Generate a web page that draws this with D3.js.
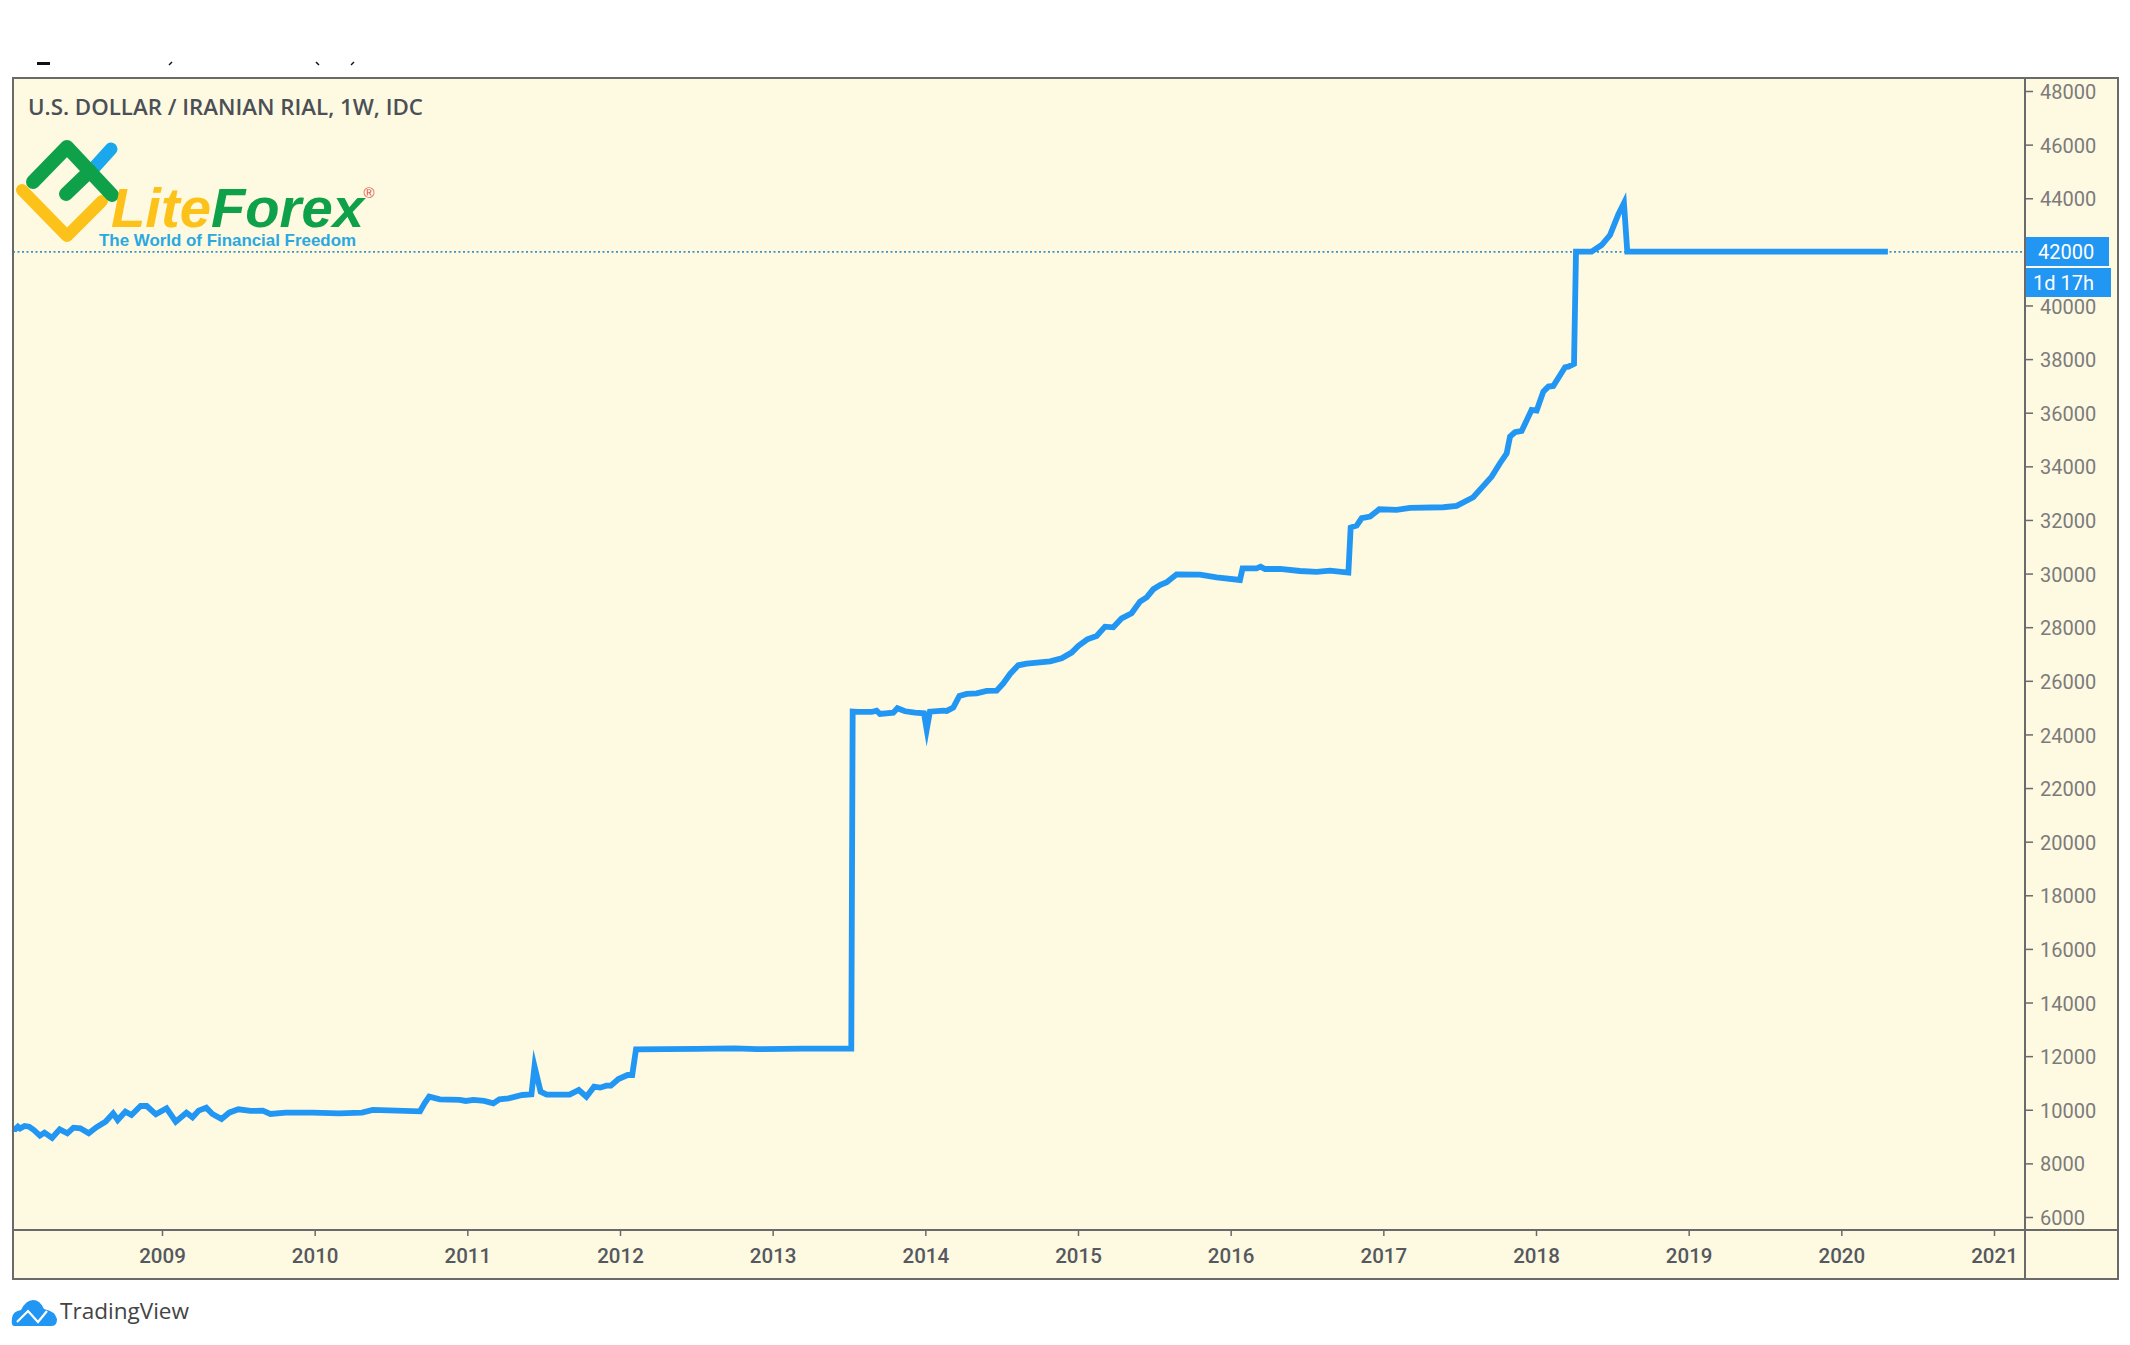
<!DOCTYPE html>
<html><head><meta charset="utf-8">
<script src="https://cdn.jsdelivr.net/npm/d3@7"></script>
<style>html,body{margin:0;padding:0;background:#fff}svg{display:block}</style>
</head><body>
<svg id="c" width="2130" height="1345"></svg>
<script>
const priceLevels = [6000,8000,10000,12000,14000,16000,18000,20000,22000,24000,26000,28000,30000,32000,34000,36000,38000,40000,42000,44000,46000,48000];
const yearTicks = [2009,2010,2011,2012,2013,2014,2015,2016,2017,2018,2019,2020,2021];
const times = [2008.02,2008.04,2008.056,2008.07,2008.10,2008.13,2008.16,2008.20,2008.23,2008.28,2008.33,2008.38,2008.42,2008.465,2008.52,2008.57,2008.63,2008.68,2008.71,2008.76,2008.80,2008.86,2008.90,2008.96,2009.03,2009.09,2009.16,2009.20,2009.24,2009.29,2009.33,2009.39,2009.44,2009.50,2009.58,2009.66,2009.71,2009.81,2009.985,2010.16,2010.31,2010.38,2010.69,2010.72,2010.75,2010.82,2010.95,2010.99,2011.04,2011.11,2011.17,2011.21,2011.27,2011.36,2011.42,2011.44,2011.48,2011.52,2011.67,2011.73,2011.78,2011.83,2011.87,2011.91,2011.94,2011.99,2012.05,2012.08,2012.105,2012.5,2012.75,2012.9,2013.2,2013.515,
2013.524,2013.561,2013.648,2013.681,2013.703,2013.79,2013.817,2013.867,2013.932,2013.991,2014.009,2014.03,2014.118,2014.14,2014.183,2014.223,2014.271,2014.336,2014.402,2014.467,2014.511,2014.555,2014.609,2014.664,2014.817,2014.893,2014.958,2015.002,2015.061,2015.122,2015.177,2015.231,2015.286,2015.351,2015.406,2015.45,2015.493,2015.537,2015.581,2015.646,2015.799,2015.908,2016.061,2016.078,2016.17,2016.196,2016.225,2016.323,2016.454,
2016.563,2016.65,2016.771,2016.786,2016.825,2016.858,2016.913,2016.974,2017.087,2017.175,2017.393,2017.48,2017.589,2017.71,2017.764,2017.808,2017.83,2017.862,2017.906,2017.971,2018.004,2018.048,2018.081,2018.113,2018.19,2018.212,2018.249,2018.262,2018.364,2018.43,2018.485,2018.539,2018.576,2018.598,2020.305];
const rates = [9308,9280,9370,9300,9395,9370,9246,9035,9147,8948,9271,9122,9333,9308,9122,9345,9557,9868,9619,9930,9805,10141,10141,9830,10054,9557,9892,9718,9967,10079,9843,9656,9892,10017,9955,9967,9843,9892,9892,9868,9892,9992,9942,10240,10489,10390,10365,10328,10365,10328,10240,10390,10427,10551,10576,11620,10676,10564,10564,10738,10489,10862,10825,10899,10899,11148,11297,11297,12254,12270,12290,12260,12280,12280,
24851,24840,24838,24888,24764,24813,24975,24863,24813,24789,24180,24851,24888,24876,25000,25435,25510,25534,25621,25634,25907,26255,26579,26641,26728,26840,27051,27300,27548,27672,28020,27996,28331,28518,28953,29114,29413,29574,29674,29972,29960,29860,29761,30196,30196,30258,30171,30171,30096,
30063,30112,30038,31716,31790,32064,32126,32400,32375,32449,32474,32524,32847,33617,34115,34487,35109,35271,35320,36104,36079,36787,36974,36998,37695,37720,37819,42008,42008,42256,42629,43400,43820,42008,42008];
const lastPrice = 42000;
const titleText = "U.S. DOLLAR / IRANIAN RIAL, 1W, IDC";

const L=13,R=2118,T=78,B=1279,AX=2025,AY=1230;
const svg=d3.select("#c");
const x=d3.scaleLinear().domain([2009,2021]).range([162,1994]);
const y=d3.scaleLinear().domain([6000,48000]).range([1217,91]);
const BG="#fef9e1",BLUE="#2196f3",FRAME="#6a6a6a";

svg.append("rect").attr("x",L).attr("y",T).attr("width",R-L).attr("height",B-T).attr("fill",BG);

// clipped line of text at the very top of the crop
svg.append("g").attr("stroke","#111").attr("fill","none").selectAll("path")
  .data(["M37 63.5H50","M172 62L169 65","M316 62L319 65","M354 62L351 65"]).join("path")
  .attr("d",d=>d).attr("stroke-width",(d,i)=>i?1.5:3);

// axes
const yAxis=d3.axisRight(y).tickValues(priceLevels).tickSize(8).tickPadding(7).tickFormat(d3.format("d"));
const yg=svg.append("g").attr("transform",`translate(${AX},0)`).call(yAxis);
yg.select(".domain").remove();
yg.selectAll("line").attr("stroke",FRAME).attr("stroke-width",1.5);
yg.selectAll("text").attr("font-family","Roboto").attr("font-size",20).attr("fill","#7b7b7b").attr("transform","translate(0,1.2)");

const xAxis=d3.axisBottom(x).tickValues(yearTicks).tickSize(6).tickPadding(12).tickFormat(d3.format("d"));
const xg=svg.append("g").attr("transform",`translate(0,${AY})`).call(xAxis);
xg.select(".domain").remove();
xg.selectAll("line").attr("stroke",FRAME).attr("stroke-width",1.5);
xg.selectAll("text").attr("font-family","Roboto").attr("font-weight",500).attr("font-size",20.5).attr("fill","#55585e");

// last price line
svg.append("line").attr("x1",L).attr("x2",AX).attr("y1",y(lastPrice)).attr("y2",y(lastPrice))
  .attr("stroke","#3f93c4").attr("stroke-width",1.6).attr("stroke-dasharray","2 2.5");

// series
const line=d3.line().x(d=>x(d[0])).y(d=>y(d[1]));
svg.append("path").datum(d3.zip(times,rates)).attr("d",line)
  .attr("fill","none").attr("stroke",BLUE).attr("stroke-width",5.8)
  .attr("stroke-linejoin","miter").attr("stroke-miterlimit",14);

// badges
svg.append("rect").attr("x",AX).attr("y",237).attr("width",84).attr("height",29).attr("fill",BLUE);
svg.append("rect").attr("x",AX).attr("y",268).attr("width",86).attr("height",29).attr("fill",BLUE);
svg.append("text").attr("x",2038).attr("y",y(lastPrice)+7).attr("font-family","Roboto").attr("font-size",20).attr("fill","#fff").text(d3.format("d")(lastPrice));
svg.append("text").attr("x",2033).attr("y",290).attr("font-family","Roboto").attr("font-size",20).attr("fill","#fff").text("1d 17h");

// frame
svg.append("rect").attr("x",L).attr("y",T).attr("width",R-L).attr("height",B-T).attr("fill","none").attr("stroke",FRAME).attr("stroke-width",2);
svg.append("line").attr("x1",AX).attr("x2",AX).attr("y1",T).attr("y2",B).attr("stroke",FRAME).attr("stroke-width",2);
svg.append("line").attr("x1",L).attr("x2",R).attr("y1",AY).attr("y2",AY).attr("stroke",FRAME).attr("stroke-width",2);

// title
svg.append("text").attr("x",28).attr("y",115).attr("font-family","'Open Sans'").attr("font-weight",600).attr("font-size",21.5)
  .attr("fill","#4b4f56").attr("textLength",395).attr("lengthAdjust","spacingAndGlyphs").text(titleText);

// LiteForex logo
const logo=svg.append("g").attr("fill","none").attr("stroke-linecap","round").attr("stroke-linejoin","round");
logo.append("path").attr("d","M92 170L111 149").attr("stroke","#1aa7ec").attr("stroke-width",13);
logo.append("path").attr("d","M22 190L67 236L102 201").attr("stroke","#fcc219").attr("stroke-width",12);
logo.append("path").attr("d","M33 182L67 147L112 195M66 194L90 171").attr("stroke","#0fa04a").attr("stroke-width",14);
const lt=svg.append("text").attr("x",111).attr("y",227).attr("font-family","'Liberation Sans'").attr("font-weight",700).attr("font-style","italic").attr("font-size",55)
  .attr("textLength",253).attr("lengthAdjust","spacingAndGlyphs");
lt.append("tspan").attr("fill","#fcc219").text("Lite");
lt.append("tspan").attr("fill","#0fa04a").text("Forex");
svg.append("text").attr("x",369).attr("y",198).attr("text-anchor","middle").attr("font-family","'Liberation Sans'").attr("font-size",15).attr("fill","#d9534f").text("®");
svg.append("text").attr("x",99).attr("y",246).attr("font-family","'Liberation Sans'").attr("font-weight",700).attr("font-size",17)
  .attr("fill","#2aa8e0").attr("textLength",257).attr("lengthAdjust","spacingAndGlyphs").text("The World of Financial Freedom");

// TradingView mark
svg.append("path").attr("fill",BLUE)
  .attr("d","M14 1326Q11 1326 12 1318Q13 1311 21 1310Q26 1300 33 1300Q40 1300 44 1309Q55 1311 57 1319Q57 1326 52 1326Z");
svg.append("path").attr("fill","none").attr("stroke","#fff").attr("stroke-width",2.2).attr("d","M17 1322L28 1311L38 1322L47 1311");
svg.append("text").attr("x",60).attr("y",1319).attr("font-family","'Open Sans'").attr("font-size",21).attr("fill","#444")
  .attr("textLength",129).attr("lengthAdjust","spacingAndGlyphs").text("TradingView");
</script>
</body></html>
